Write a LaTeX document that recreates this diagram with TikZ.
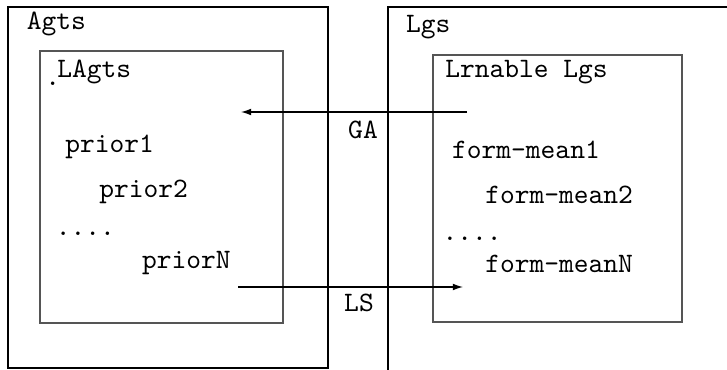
\documentclass[tikz,border=0pt]{standalone}
\usepackage{tikz}
\usetikzlibrary{arrows.meta,positioning}
\definecolor{boxgray}{HTML}{555555}
\tikzset{
  outerbox/.style={draw=black,line width=0.8pt},
  innerbox/.style={draw=boxgray,line width=0.5pt},
  ttlabel/.style={anchor=base west,inner sep=0pt,font=\ttfamily},
  linkarr/.style={-{Latex[length=3.6pt,width=2.4pt]},line width=0.45pt},
  linklbl/.style={inner sep=0pt,font=\ttfamily}
}
\begin{document}
\begin{tikzpicture}
  \useasboundingbox (0,0) rectangle (9.0875,4.6125);
  % containers
  \draw[outerbox] (0.1,0.01) rectangle (4.1,4.525);
  \draw[innerbox] (0.5,0.575) rectangle (3.5375,3.975);
  \begin{scope}
    \clip (0,0) rectangle (9.0875,4.6125);
    \draw[outerbox] (4.85,-1) rectangle (10,4.525);
  \end{scope}
  \draw[innerbox] (5.4125,0.5875) rectangle (8.525,3.925);

  % left side
  \node[ttlabel] (agts) at (0.33,4.25) {Agts};
  \node[ttlabel] (ldot) at (0.56,3.54) {.};
  \node[ttlabel] (lagts) at (0.71,3.65) {LAgts};
  \node[ttlabel] (pr1) at (0.81,2.7125) {prior1};
  \node[ttlabel] (pr2) at (1.235,2.15) {prior2};
  \node[ttlabel] (prdots) at (0.69,1.675) {....};
  \node[ttlabel] (prN) at (1.77,1.2625) {priorN};

  % right side
  \node[ttlabel] (lgs) at (5.07,4.2125) {Lgs};
  \node[ttlabel] (llgs) at (5.56,3.65) {Lrnable Lgs};
  \node[ttlabel] (fm1) at (5.645,2.6375) {form-mean1};
  \node[ttlabel] (fm2) at (6.06,2.075) {form-mean2};
  \node[ttlabel] (fmdots) at (5.525,1.6125) {....};
  \node[ttlabel] (fmN) at (6.06,1.2125) {form-meanN};

  % links
  \coordinate (gaFrom) at (5.8375,3.2125);
  \coordinate (gaTo) at (3.0125,3.2125);
  \draw[linkarr] (gaFrom) -- (gaTo);
  \node[linklbl] (ga) at (4.5375,2.9875) {GA};
  \coordinate (lsFrom) at (2.975,1.025);
  \coordinate (lsTo) at (5.7875,1.025);
  \draw[linkarr] (lsFrom) -- (lsTo);
  \node[linklbl] (ls) at (4.4875,0.825) {LS};
\end{tikzpicture}
\end{document}
